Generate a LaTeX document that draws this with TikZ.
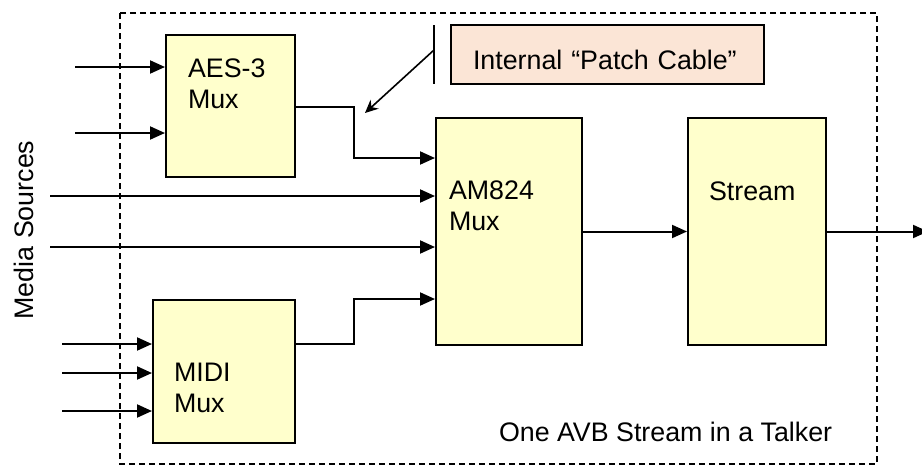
\documentclass[tikz,border=0pt]{standalone}
\usepackage{fontspec}
\setmainfont{Liberation Sans}
\usepackage{tikz}
\usetikzlibrary{arrows.meta}
\definecolor{muxfill}{HTML}{FFFFCC}
\definecolor{notefill}{HTML}{FBE5D6}
\tikzset{
every picture/.style={line width=2pt, x=1pt, y=-1pt},
%%%%%%%%%%  Node styles
muxbox/.style={draw, fill=muxfill, anchor=north west, inner sep=0pt},
notebox/.style={draw, fill=notefill, anchor=base west, inner xsep=22pt,
                inner ysep=0pt, text height=44pt, text depth=15pt,
                text width=269pt, align=left},
lbl/.style={inner sep=0pt, align=left, anchor=base west},
every node/.style={font=\fontsize{26.8}{31}\selectfont},
%%%% line styles
flow/.style={-{Triangle[length=15pt,width=13pt]}},
pointer/.style={line width=1.6pt, -{Stealth[length=13pt,width=12pt]}},
frame/.style={line width=1.6pt, dash pattern=on 6pt off 4pt}
}

\begin{document}
\begin{tikzpicture}
\useasboundingbox (0,0) rectangle (922,466);
%%talker frame
\draw[frame] (120,13) rectangle (877,464);
\node[lbl] (talker) at (498,441) {One AVB Stream in a Talker};
\node[lbl, rotate=90, anchor=base] (src) at (33,230) {Media Sources};
%%boxes
\node[muxbox, minimum width=129pt, minimum height=142pt] (aes) at (165,34) {};
\node[muxbox, minimum width=142pt, minimum height=143pt] (midi) at (152,299) {};
\node[muxbox, minimum width=146pt, minimum height=227pt] (am) at (435,117) {};
\node[muxbox, minimum width=138pt, minimum height=227pt] (st) at (687,117) {};
%% base of a two line label = base of its last line
\node[lbl] (aeslbl) at (187,108) {AES-3\\Mux};
\node[lbl] (midilbl) at (173,412) {MIDI\\Mux};
\node[lbl] (amlbl) at (448,230) {AM824\\Mux};
\node[lbl] (stlbl) at (708,200) {Stream};
%%patch cable note
\node[notebox] (note) at (450,69) {Internal “Patch Cable”};
\coordinate (barT) at (434,25);
\coordinate (barM) at (434,50);
\coordinate (barB) at (434,84);
\coordinate (pc) at (365,113);
\draw[line width=1.6pt] (barT) -- (barB);
\draw[pointer] (barM) -- (pc);
%%inputs
\foreach \y in {67,133}{
  \coordinate (ai\y) at (75,\y);
  \draw[flow] (ai\y) -- (ai\y -| aes.west);
}
\foreach \y in {196,247}{
  \coordinate (mi\y) at (50,\y);
  \draw[flow] (mi\y) -- (mi\y -| am.west);
}
\foreach \y in {344,373,411}{
  \coordinate (di\y) at (62,\y);
  \draw[flow] (di\y) -- (di\y -| midi.west);
}
%%patch cables into the AM824 mux
\coordinate (j1) at (354,158);
\coordinate (j2) at (354,299);
\coordinate (m0) at (294,344);
\draw[flow] (aes.east |- 0,107) -| (j1) -- (j1 -| am.west);
\draw[flow] (m0) -| (j2) -- (j2 -| am.west);
%%stream out
\coordinate (out) at (928,230);
\draw[flow] (am.east) -- (st.west);
\draw[flow] (st.east) -- (st.east -| out);
\end{tikzpicture}
\end{document}
